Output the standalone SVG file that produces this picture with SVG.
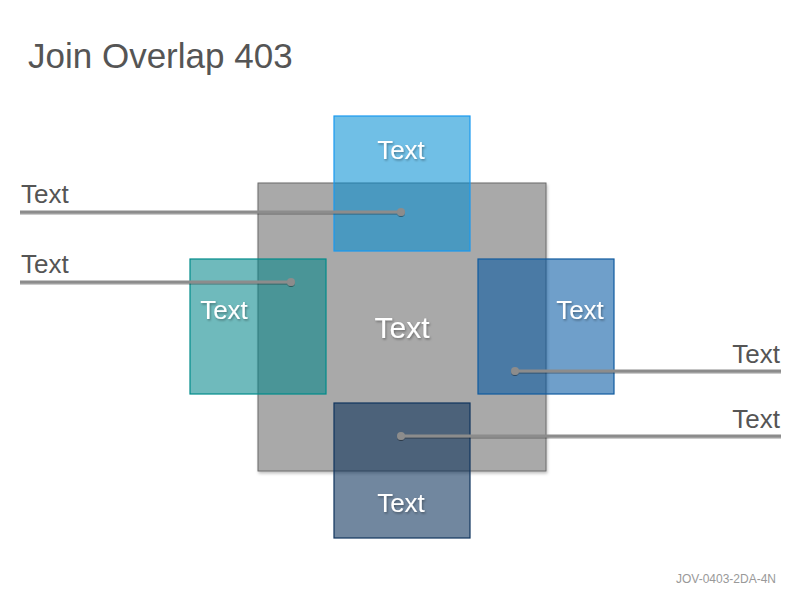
<svg xmlns="http://www.w3.org/2000/svg" width="800" height="600" viewBox="0 0 800 600">
<defs>
<filter id="sh" x="-10%" y="-10%" width="130%" height="130%">
<feDropShadow dx="1" dy="2" stdDeviation="1.5" flood-color="#000" flood-opacity="0.25"/>
</filter>
<filter id="tsh" x="-20%" y="-20%" width="140%" height="150%">
<feDropShadow dx="1" dy="1.5" stdDeviation="1" flood-color="#000" flood-opacity="0.35"/>
</filter>
<filter id="lsh" x="-5%" y="-100%" width="110%" height="300%">
<feDropShadow dx="0" dy="1" stdDeviation="0.6" flood-color="#000" flood-opacity="0.4"/>
</filter>
</defs>
<style>
text{font-family:"Liberation Sans",Arial,sans-serif}
.title{font-size:35px;fill:#555555}
.lbl{font-size:26px;fill:#555555}
.in{font-size:26px;fill:#ffffff;text-anchor:middle;filter:url(#tsh)}
.conn line{stroke:#8C8C8C;stroke-width:3}
.conn circle{fill:#8C8C8C}
.foot{font-size:12px;fill:#999999;text-anchor:end}
</style>
<rect width="800" height="600" fill="#ffffff"/>
<text class="title" x="28" y="68">Join Overlap 403</text>
<g id="center">
<rect x="258" y="183" width="288" height="288" fill="#A9A9A9" stroke="#6B6B6B" stroke-width="1" filter="url(#sh)"/>
<text class="in" x="402" y="338" style="font-size:30px">Text</text>
</g>
<g id="top">
<rect x="334" y="116" width="136" height="135" fill="#008CD2" fill-opacity="0.56" stroke="#1A9AF0" stroke-width="1.2"/>
<text class="in" x="401" y="159">Text</text>
</g>
<g id="left">
<rect x="190" y="259" width="136" height="135" fill="#02868A" fill-opacity="0.57" stroke="#008C8A" stroke-width="1.2"/>
<text class="in" x="224" y="319">Text</text>
</g>
<g id="right">
<rect x="478" y="259" width="136" height="135" fill="#0257A2" fill-opacity="0.57" stroke="#0F5A9E" stroke-width="1.2"/>
<text class="in" x="580" y="319">Text</text>
</g>
<g id="bottom">
<rect x="334" y="403" width="136" height="135" fill="#062C56" fill-opacity="0.57" stroke="#10345E" stroke-width="1.2"/>
<text class="in" x="401" y="512">Text</text>
</g>
<g id="connectors" class="conn" filter="url(#lsh)">
<line x1="20" y1="212" x2="401" y2="212"/>
<circle cx="401" cy="212" r="4"/>
<line x1="20" y1="282" x2="291" y2="282"/>
<circle cx="291" cy="282" r="4"/>
<line x1="515" y1="371" x2="781" y2="371"/>
<circle cx="515" cy="371" r="4"/>
<line x1="401" y1="436" x2="781" y2="436"/>
<circle cx="401" cy="436" r="4"/>
</g>
<g id="labels">
<text class="lbl" x="21" y="203">Text</text>
<text class="lbl" x="21" y="273">Text</text>
<text class="lbl" x="780" y="363" text-anchor="end">Text</text>
<text class="lbl" x="780" y="428" text-anchor="end">Text</text>
</g>
<text class="foot" x="776" y="583">JOV-0403-2DA-4N</text>
</svg>
